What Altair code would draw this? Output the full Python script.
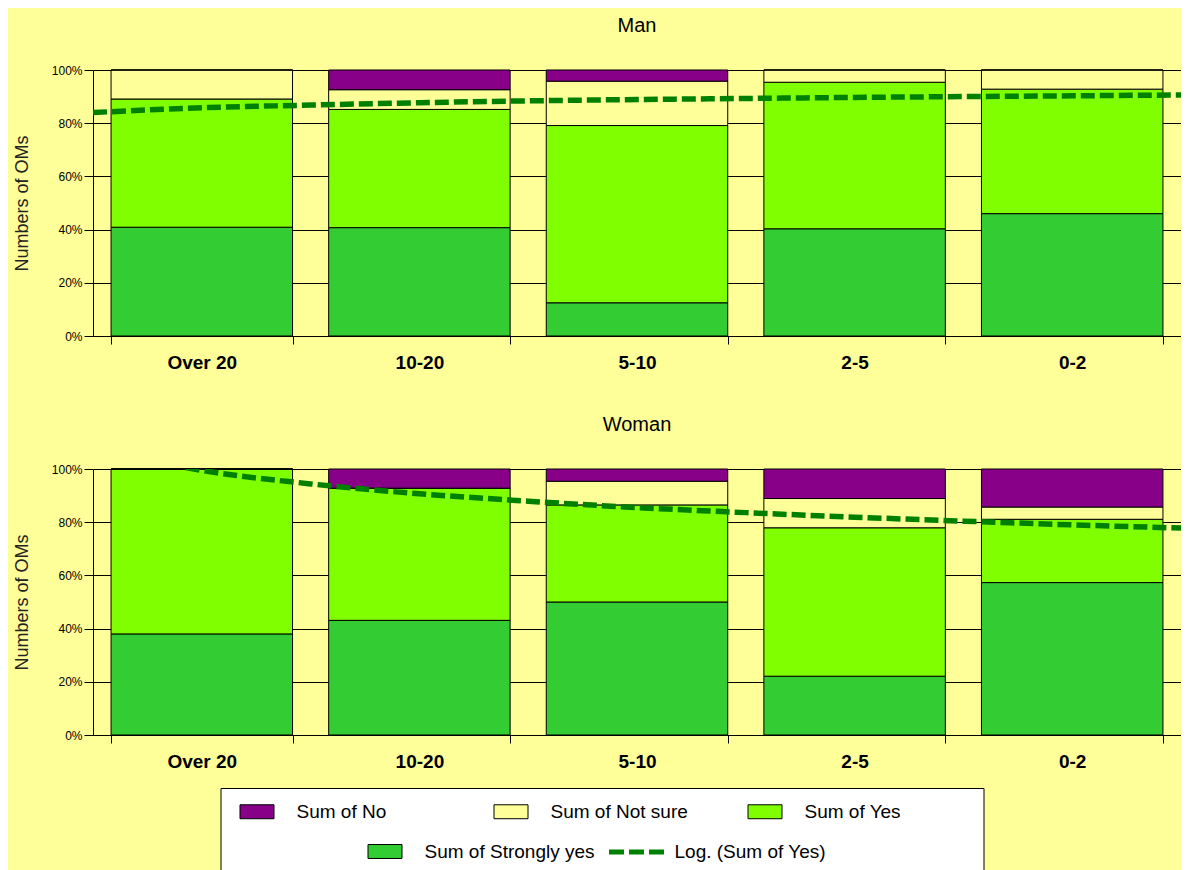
import altair as alt
import pandas as pd

# ---------------- data ----------------
categories = ["Over 20", "10-20", "5-10", "2-5", "0-2"]
series_names = ["Sum of Strongly yes", "Sum of Yes", "Sum of Not sure", "Sum of No"]
series_colors = ["#33CC33", "#80FF00", "#FFFF99", "#880088"]

man_strongly_yes = [40.9, 40.7, 12.5, 40.3, 46.0]
man_yes = [48.2, 44.4, 66.7, 55.1, 46.8]
man_not_sure = [10.9, 7.4, 16.7, 4.6, 7.2]
man_no = [0.0, 7.4, 4.2, 0.0, 0.0]

woman_strongly_yes = [38.0, 43.1, 50.0, 22.1, 57.3]
woman_yes = [62.0, 49.7, 36.5, 55.8, 23.8]
woman_not_sure = [0.0, 0.0, 8.9, 11.0, 4.6]
woman_no = [0.0, 7.2, 4.6, 11.1, 14.3]

# logarithmic trend line of "Sum of Yes"
trend_name = "Log. (Sum of Yes)"
trend_pos = [0.5, 1, 1.5, 2, 2.5, 3, 3.5, 4, 4.5, 5, 5.5]
man_trend = [0.840, 0.858, 0.868, 0.877, 0.884, 0.889, 0.893, 0.897, 0.900, 0.903, 0.906]
woman_trend = [1.083, 0.995, 0.944, 0.907, 0.879, 0.855, 0.836, 0.819, 0.804, 0.790, 0.778]

FONT = "Liberation Sans, Arial, sans-serif"
BG = "#FFFF99"
W = 1088
H = 266


def bar_frame(sy, yes, ns, no):
    rows = []
    for i, cat in enumerate(categories):
        for rank, (name, vals) in enumerate(zip(series_names, [sy, yes, ns, no])):
            rows.append({"category": cat, "series": name, "value": vals[i], "rank": rank})
    return pd.DataFrame(rows)


def panel(title, sy, yes, ns, no, trend):
    df = bar_frame(sy, yes, ns, no)
    tdf = pd.DataFrame({"pos": trend_pos, "trend": trend, "name": trend_name})
    bars = alt.Chart(df).mark_bar(stroke="black", strokeWidth=1).encode(
        x=alt.X(
            "category:N",
            sort=categories,
            scale=alt.Scale(paddingInner=0.166, paddingOuter=0.083),
            axis=alt.Axis(
                title=None, labelAngle=0, tickBand="extent", tickSize=8,
                tickColor="black", domainColor="black", labelColor="black",
                labelFont=FONT, labelFontSize=19, labelFontWeight="bold",
                labelPadding=9, grid=False,
            ),
        ),
        y=alt.Y(
            "value:Q",
            stack="normalize",
            scale=alt.Scale(domain=[0, 1]),
            title="Numbers of OMs",
            axis=alt.Axis(
                values=[0, 0.2, 0.4, 0.6, 0.8, 1.0], format=".0%",
                tickSize=9, tickColor="black", domainColor="black",
                labelColor="black", labelFont=FONT, labelFontSize=12,
                labelPadding=2, grid=True, gridColor="black", gridOpacity=1,
                titleFont=FONT, titleFontSize=18, titleFontWeight="normal",
                titleColor="#222222", titlePadding=20,
            ),
        ),
        fill=alt.Fill("series:N", scale=alt.Scale(domain=series_names, range=series_colors), legend=None),
        order=alt.Order("rank:Q", sort="ascending"),
    )
    line = alt.Chart(tdf).mark_line(
        strokeDash=[14, 5], strokeWidth=5.5, clip=True, interpolate="monotone"
    ).encode(
        x=alt.X("pos:Q", scale=alt.Scale(domain=[0.5, 5.5], nice=False, zero=False), axis=None),
        y=alt.Y("trend:Q", scale=alt.Scale(domain=[0, 1]), title="Numbers of OMs"),
        stroke=alt.Stroke("name:N", scale=alt.Scale(domain=[trend_name], range=["#008000"]), legend=None),
    )
    return alt.layer(bars, line).resolve_scale(x="independent").properties(
        width=W, height=H,
        title=alt.Title(title, font=FONT, fontSize=20, fontWeight="normal", color="black", offset=28),
    )


man = panel("Man", man_strongly_yes, man_yes, man_not_sure, man_no, man_trend)
woman = panel("Woman", woman_strongly_yes, woman_yes, woman_not_sure, woman_no, woman_trend)

# ---------------- legend box ----------------
row1 = ["Sum of No", "Sum of Not sure", "Sum of Yes"]
row1_colors = ["#880088", "#FFFF99", "#80FF00"]
empty = pd.DataFrame({"series": pd.Series(dtype="str"), "name": pd.Series(dtype="str")})

rect_symbol = "M-1,-0.41H1V0.41H-1Z"
common_leg = dict(
    orient="none", title=None, labelFont=FONT, labelFontSize=19, labelColor="black",
    labelLimit=400, padding=0, symbolType=rect_symbol, symbolSize=1156,
    symbolStrokeColor="black", symbolStrokeWidth=1, symbolOpacity=1,
)
leg_a = alt.Chart(empty).mark_bar(stroke="black").encode(
    fill=alt.Fill(
        "series:N", scale=alt.Scale(domain=row1, range=row1_colors),
        legend=alt.Legend(direction="horizontal", columns=3, gridAlign="all",
                          columnPadding=57, labelOffset=22, legendX=19, legendY=6, **common_leg),
    )
)
leg_b = alt.Chart(empty).mark_bar(stroke="black").encode(
    color=alt.Color(
        "series:N", scale=alt.Scale(domain=["Sum of Strongly yes"], range=["#33CC33"]),
        legend=alt.Legend(labelOffset=22, legendX=147, legendY=46, **common_leg),
    )
)
leg_c = alt.Chart(empty).mark_line(strokeDash=[15, 5], strokeWidth=5).encode(
    stroke=alt.Stroke(
        "name:N", scale=alt.Scale(domain=[trend_name], range=["#008000"]),
        legend=alt.Legend(
            orient="none", title=None, labelFont=FONT, labelFontSize=19, labelColor="black",
            labelLimit=400, padding=0, symbolType="stroke", symbolSize=3025,
            symbolStrokeWidth=5, symbolDash=[15, 5], labelOffset=8, legendX=386, legendY=34,
        ),
    )
)
legend_box = alt.layer(leg_a, leg_b, leg_c).properties(
    width=763, height=100,
    view=alt.ViewBackground(fill="white", stroke="black", strokeWidth=1),
)
# empty spacer to the right of the box, used only to shift the centred legend row
spacer = alt.Chart(empty).mark_point(opacity=0).encode(
    x=alt.value(0), y=alt.value(0)
).properties(width=59, height=10)
legend_row = alt.hconcat(legend_box, spacer, spacing=10)

inner = alt.vconcat(man, woman, spacing=43).resolve_scale(x="independent", y="independent")
chart = (
    alt.vconcat(inner, legend_row, spacing=16, center=True)
    .resolve_scale(fill="independent", color="independent", stroke="independent")
    .properties(background=BG, padding={"left": 5, "top": 8, "right": 0, "bottom": 0})
    .configure_view(strokeWidth=0)
)

chart.save("out.html", embed_options={"renderer": "svg", "actions": False})
